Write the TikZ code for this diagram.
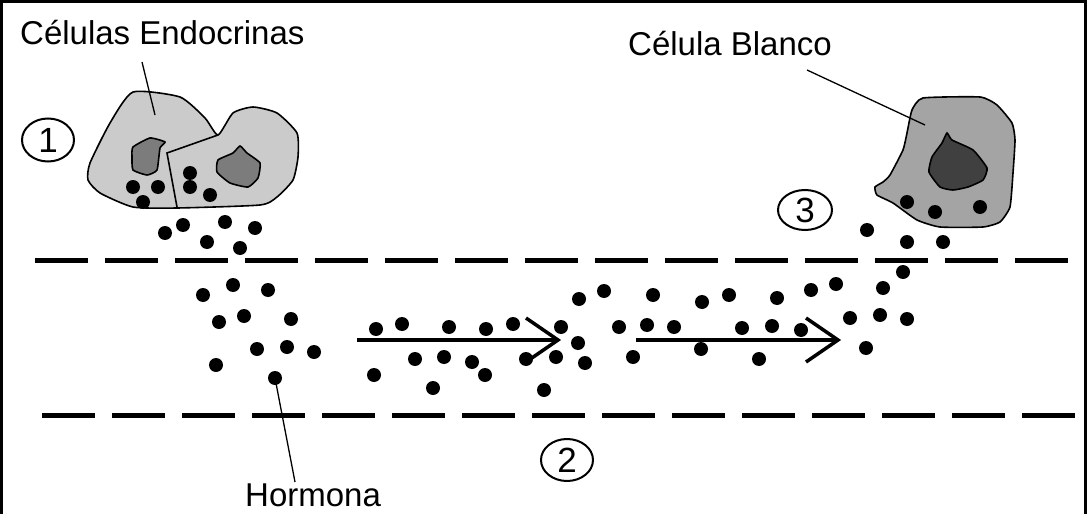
\documentclass[tikz,border=0pt]{standalone}
\usepackage{fontspec}
\setmainfont{Liberation Sans}
\usetikzlibrary{shapes.geometric}
\definecolor{cellA}{HTML}{CBCBCB}
\definecolor{nucA}{HTML}{7C7C7C}
\definecolor{cellB}{HTML}{A4A4A4}
\definecolor{nucB}{HTML}{404040}
\begin{document}
\begin{tikzpicture}[x=1pt,y=-1pt,
  lbl/.style={font=\fontsize{33}{36}\selectfont, inner sep=0pt, anchor=base west},
  numtag/.style={draw, ellipse, line width=2pt, inner sep=0pt,
    font=\fontsize{35}{38}\selectfont},
  membrane/.style={line width=5pt, dash pattern=on 53pt off 17pt},
  leader/.style={line width=1.3pt},
  cellline/.style={line width=1.6pt},
  flow/.style={line width=3.5pt}]
\useasboundingbox (0,0) rectangle (1088,514);
\fill[white] (0,0) rectangle (1088,514);
% frame
\draw[line width=3pt] (1.5,520) -- (1.5,1.5) -- (1085,1.5) -- (1085,520);

% endocrine cells
\draw[cellline, fill=cellA] plot[smooth cycle, tension=0.35] coordinates {
  (133,92) (180,97) (205,118) (218,135) (233,113) (253,107) (277,113)
  (297,133) (298,157) (293,180) (277,197) (260,205) (177,208) (133,207)
  (100,193) (88,180) (90,163) (110,123)};
\draw[cellline] (218,135) -- (167,153) -- (177,207);
\draw[cellline, fill=nucA] plot[smooth cycle, tension=0.3] coordinates {
  (133,147) (150,138) (165,142) (160,148) (157,170) (147,175) (133,170) (132,157)};
\draw[cellline, fill=nucA] plot[smooth cycle, tension=0.3] coordinates {
  (218,160) (233,153) (240,146) (247,153) (260,163) (258,178) (248,187)
  (230,183) (217,172)};

% target cell
\draw[cellline, fill=cellB] plot[smooth cycle, tension=0.3] coordinates {
  (923,98) (980,97) (997,105) (1012,123) (1015,140) (1013,173) (1010,207)
  (1000,222) (983,227) (940,227) (917,220) (893,203) (877,195) (875,187)
  (883,182) (890,175) (903,150) (907,133) (912,110)};
\draw[cellline, fill=nucB] plot[smooth cycle, tension=0.3] coordinates {
  (947,133) (952,140) (973,150) (987,168) (983,180) (968,187) (953,190)
  (940,187) (929,172) (932,157) (942,143)};

% vessel walls
\draw[membrane] (35,260) -- (1086,260);
\draw[membrane] (42,415) -- (1086,415);

% hormone molecules
\foreach \p in {
  (133,187),(158,187),(143,202),(190,173),(190,187),(210,195),
  (165,233),(183,225),(207,242),(225,222),(255,228),(240,248),
  (203,295),(233,285),(268,290),(219,322),(244,316),(291,319),
  (257,349),(287,347),(314,352),(216,365),
  (376,329),(402,324),(374,375),(415,359),(444,357),(433,388),
  (449,327),(472,362),(486,329),(485,375),(513,324),(526,359),
  (544,390),(561,327),(578,343),(556,357),(585,363),(579,299),
  (604,291),(619,327),(633,357),(647,325),(653,295),(674,327),
  (702,302),(729,295),(701,349),(742,328),(759,359),(772,326),
  (777,298),(801,330),(811,290),(836,284),(850,318),(866,348),
  (880,315),(883,288),
  (907,202),(935,212),(980,207),(867,230),(907,242),(943,242),
  (903,272),(907,319)}
  \fill \p circle (7);
\fill (275,378) circle (7);
\coordinate (hdot) at (275,378);

% flow arrows
\coordinate (a1s) at (357,340);
\coordinate (a1e) at (558,340);
\coordinate (a2s) at (636,340);
\coordinate (a2e) at (838,340);
\draw[flow] (a1s) -- (a1e);
\draw[flow, line join=miter] ([shift={(-32,-22)}]a1e) -- (a1e) -- ([shift={(-32,22)}]a1e);
\draw[flow] (a2s) -- (a2e);
\draw[flow, line join=miter] ([shift={(-32,-22)}]a2e) -- (a2e) -- ([shift={(-32,22)}]a2e);

% labels
\node[lbl] (endo) at (20,44) {Células Endocrinas};
\node[lbl] (blanco) at (628,56) {Célula Blanco};
\node[lbl] (horm) at (245,506) {Hormona};
\coordinate (endoTip) at (155,115);
\coordinate (blancoTip) at (925,125);
\draw[leader] (142,62) -- (endoTip);
\draw[leader] (807,70) -- (blancoTip);
\draw[leader] (hdot) -- (295,482);

% stage markers
\node[numtag, minimum width=52pt, minimum height=43pt] (n1) at (48,140) {1};
\node[numtag, minimum width=52pt, minimum height=42pt] (n2) at (567,460) {2};
\node[numtag, minimum width=54pt, minimum height=40pt] (n3) at (805,210) {3};
\end{tikzpicture}
\end{document}
